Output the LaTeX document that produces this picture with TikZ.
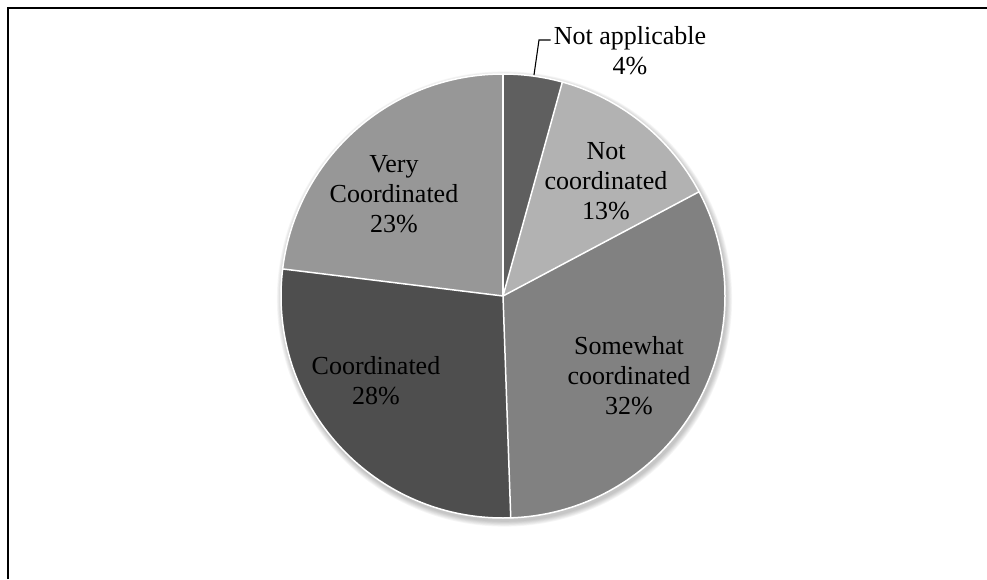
\documentclass[tikz,border=0pt]{standalone}
\usepackage{fontspec}
\setmainfont{Liberation Serif}
\definecolor{naColor}{HTML}{5F5F5F}
\definecolor{ncColor}{HTML}{B2B2B2}
\definecolor{swColor}{HTML}{818181}
\definecolor{cColor}{HTML}{4E4E4E}
\definecolor{vcColor}{HTML}{979797}
\begin{document}
\begin{tikzpicture}[x=1pt,y=1pt,
  slice/.style={draw=white,line width=1.5pt,line join=round},
  lbl/.style={align=center,inner sep=0pt,font=\fontsize{26}{30}\selectfont},
  frameline/.style={line width=2pt,black}]
\useasboundingbox (0,0) rectangle (987,579);
% outer frame: left and top edges only
\draw[frameline] (8,0) -- (8,571) -- (987,571);
% pie geometry
\def\cx{503}\def\cy{283}\def\rr{222}
\coordinate (c) at (\cx,\cy);
% soft shadow under the pie
\foreach \k in {1,...,7}{
  \fill[black,opacity=0.035] ([shift={(1.5,-3)}]c) circle ({\rr+\k*0.8});
}
% slices, clockwise from the top
\fill[naColor] (c) -- ++(90:\rr) arc (90:74.5:\rr) -- cycle;
\fill[ncColor] (c) -- ++(74.5:\rr) arc (74.5:28:\rr) -- cycle;
\fill[swColor] (c) -- ++(28:\rr) arc (28:-88:\rr) -- cycle;
\fill[cColor] (c) -- ++(-88:\rr) arc (-88:-187:\rr) -- cycle;
\fill[vcColor] (c) -- ++(-187:\rr) arc (-187:-270:\rr) -- cycle;
% white separators
\foreach \a in {90,74.5,28,-88,-187}{
  \draw[white,line width=1.5pt] (c) -- ++(\a:\rr);
}
\draw[white,line width=1.5pt] (c) circle (\rr);
% labels
\node[lbl] (na) at (630,528) {Not applicable\\4\%};
\node[lbl] (nc) at (606,398) {Not\\coordinated\\13\%};
\node[lbl] (vc) at (394,385) {Very\\Coordinated\\23\%};
\node[lbl] (sw) at (629,203) {Somewhat\\coordinated\\32\%};
\node[lbl] (co) at (376,198) {Coordinated\\28\%};
% leader line for the small slice
\coordinate (naedge) at (534,504);
\coordinate (nabend) at (539,539);
\draw[black,line width=1.1pt] (naedge) -- (nabend) -- ([xshift=-3pt]na.west |- nabend);
\end{tikzpicture}
\end{document}
